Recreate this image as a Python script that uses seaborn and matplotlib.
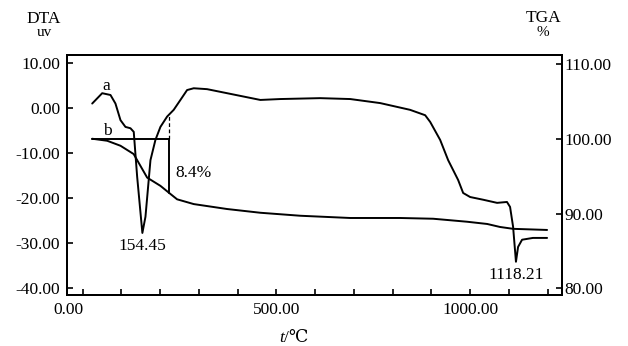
import matplotlib
matplotlib.use("Agg")
import matplotlib.pyplot as plt
import matplotlib.transforms as mtransforms
import seaborn as sns
import pandas as pd

# ---- data ----
dta_temp = [25, 50.8, 72.2, 85, 98, 110.8, 123.7, 132.2, 141, 154.45, 162.4, 175.3,
            188.1, 201, 218.3, 235.3, 252.6, 269.8, 286.9, 321.4, 373, 458.8, 510,
            613, 690.7, 768, 845, 884, 897, 922.7, 943.3, 969, 982, 1000, 1033.5,
            1069.6, 1095, 1103, 1110.8, 1118.21, 1123.7, 1134, 1162, 1198.5]
dta_value = [1.0, 3.3, 2.9, 1.0, -2.7, -4.2, -4.5, -5.3, -15.3, -27.8, -24.2, -11.6,
             -7.1, -4.2, -1.9, -0.4, 1.8, 4.0, 4.4, 4.2, 3.3, 1.8, 2.0,
             2.2, 2.0, 1.1, -0.4, -1.6, -3.1, -7.1, -11.6, -16.0, -18.9, -19.8, -20.4,
             -21.1, -20.9, -22.0, -26.4, -34.2, -30.9, -29.3, -28.9, -28.9]

tga_temp = [25, 63.7, 98, 132, 166.8, 201, 222.4, 244, 287, 373, 458.8, 561.9,
            690.7, 819.6, 904.6, 992, 1044, 1077, 1111, 1198.5]
tga_value = [100.0, 99.73, 99.06, 97.95, 94.8, 93.7, 92.8, 91.9, 91.26, 90.6, 90.1, 89.7,
             89.4, 89.4, 89.3, 88.9, 88.6, 88.2, 87.95, 87.8]

peak_labels = ["154.45", "1118.21"]
peak_temps = [154.45, 1118.21]
peak_values = [-27.8, -34.2]

step_temp = 222.4
step_start = 100.0
step_end = 92.8
step_dta = -1.6
step_text = "8.4%"

x_major = [0, 500, 1000]
x_major_labels = ["0.00", "500.00", "1000.00"]
x_minor = [100, 200, 300, 400, 600, 700, 800, 900, 1100, 1200]
y_left_ticks = [10, 0, -10, -20, -30, -40]
y_right_ticks = [110, 100, 90, 80]

dta_df = pd.DataFrame({"T": dta_temp, "DTA": dta_value})
tga_df = pd.DataFrame({"T": tga_temp, "TGA": tga_value})

# ---- style ----
sns.set_theme(style="white")
SERIF = ["Liberation Serif", "DejaVu Serif", "Noto Sans CJK SC"]
plt.rcParams["font.family"] = SERIF
plt.rcParams["text.color"] = "black"

FS = 12.5
fig = plt.figure(figsize=(6.28, 3.46), dpi=100)
ax = fig.add_axes([67 / 628, 1 - 295 / 346, (562 - 67) / 628, (295 - 55) / 346])
ax2 = ax.twinx()

sns.lineplot(data=dta_df, x="T", y="DTA", ax=ax, color="black", lw=1.4,
             sort=False, estimator=None)
sns.lineplot(data=tga_df, x="T", y="TGA", ax=ax2, color="black", lw=1.4,
             sort=False, estimator=None)

ax.set_xlim(-40, 1237)
ax.set_ylim(-41.6, 11.8)
ax2.set_ylim(79.1, 111.2)

# annotation of mass loss step
ax2.plot([tga_temp[0], step_temp], [step_start, step_start], color="black", lw=1.4)
ax2.plot([step_temp, step_temp], [step_start, step_end], color="black", lw=1.4)
y_dta_in_tga = ax2.transData.inverted().transform(
    ax.transData.transform((step_temp, step_dta)))[1]
ax2.plot([step_temp, step_temp], [step_start, y_dta_in_tga], color="black", lw=0.9,
         ls=(0, (3, 2)))
ax2.text(step_temp + 17, 95.4, step_text, fontsize=FS, va="center", ha="left",
         color="black")

# curve labels
ax.text(62, 4.9, "a", fontsize=FS, ha="center", va="center", color="black")
ax2.text(63.6, 101.1, "b", fontsize=FS, ha="center", va="center", color="black")

# peak labels
for lab, t, v in zip(peak_labels, peak_temps, peak_values):
    ax.text(t, v - 1.2, lab, fontsize=FS, ha="center", va="top", color="black")

# ticks
ax.set_xticks(x_major)
ax.set_xticklabels(x_major_labels)
ax.set_xticks(x_minor, minor=True)
ax.set_yticks(y_left_ticks)
ax.set_yticklabels([f"{v:.2f}" for v in y_left_ticks])
ax2.set_yticks(y_right_ticks)
ax2.set_yticklabels([f"{v:.2f}" for v in y_right_ticks])

ax.tick_params(axis="x", which="both", direction="in", length=4, width=1.2,
               pad=5, labelsize=FS, bottom=True, colors="black")
ax.tick_params(axis="y", direction="in", length=4, width=1.2, pad=5,
               labelsize=FS, left=True, colors="black")
ax2.tick_params(axis="y", direction="in", length=4, width=1.2, pad=2,
                labelsize=FS, right=True, colors="black")

first = ax.get_xticklabels()[0]
first.set_ha("right")
first.set_transform(first.get_transform()
                    + mtransforms.ScaledTranslation(1 / 100, 0, fig.dpi_scale_trans))

ax.set_xlabel("")
ax.set_ylabel("")
ax2.set_ylabel("")

for a in (ax, ax2):
    for s in a.spines.values():
        s.set_color("black")
        s.set_linewidth(1.4)

# axis titles
fig.text(44 / 628, 1 - 23 / 346, "DTA", fontsize=FS, ha="center", va="baseline")
fig.text(44 / 628, 1 - 36 / 346, "uv", fontsize=FS - 1.5, ha="center", va="baseline")
fig.text(543 / 628, 1 - 22 / 346, "TGA", fontsize=FS, ha="center", va="baseline")
fig.text(543 / 628, 1 - 36 / 346, "%", fontsize=FS - 1.5, ha="center", va="baseline")

# x label: italic t + "/℃"
fig.text(284 / 628, 1 - 338 / 346, "t", fontsize=FS, style="italic",
         ha="right", va="center")
fig.text(284 / 628, 1 - 338 / 346, "/℃", fontsize=FS, ha="left", va="center",
         family=SERIF)

fig.savefig("out.png", dpi=100)
